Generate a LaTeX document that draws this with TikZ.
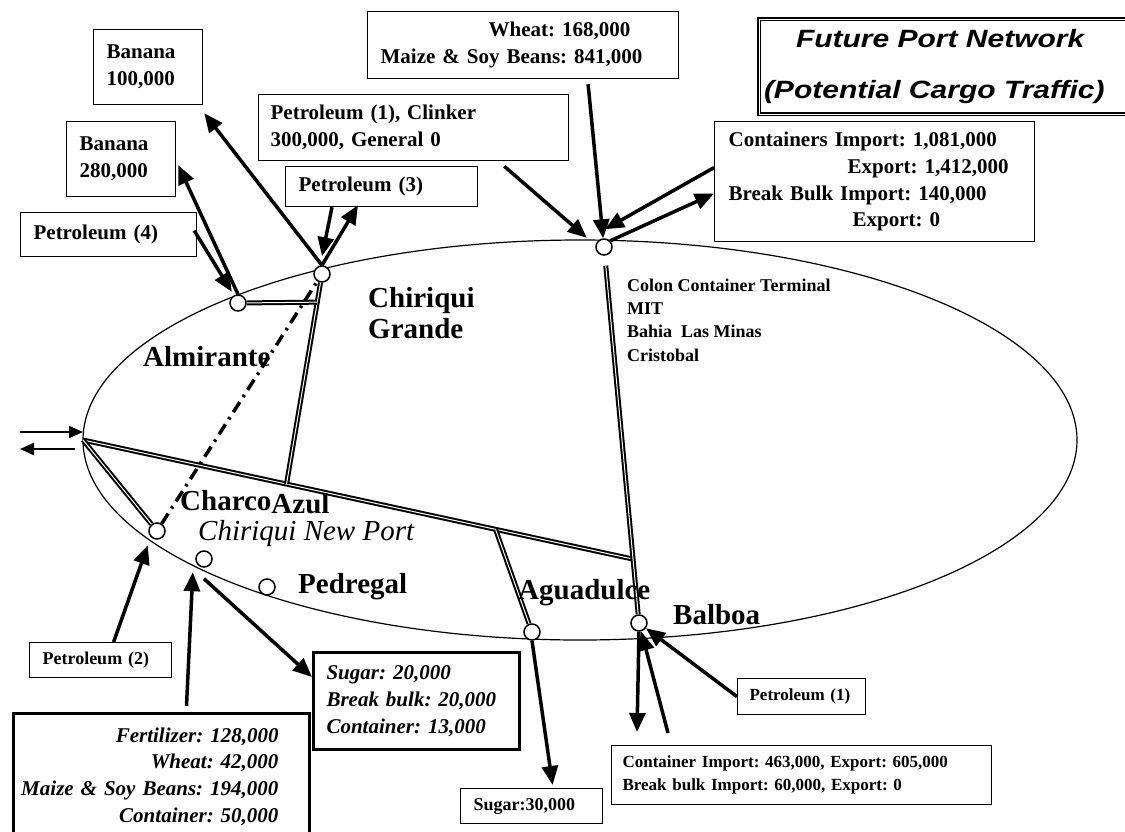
\documentclass[tikz,border=0pt]{standalone}
\usepackage{fontspec}
\setmainfont{Liberation Serif}
\newfontfamily\titlefont[FakeStretch=1.2]{Liberation Sans}
\usetikzlibrary{arrows.meta, calc}
\frenchspacing

\begin{document}
\begin{tikzpicture}[x=1pt, y=-1pt,
  port/.style={circle, draw, line width=1.5pt, fill=white, minimum size=16pt, inner sep=0pt},
  rail/.style={double, line width=2pt, double distance=1pt},
  arr/.style={line width=3.5pt, -{Triangle[length=19pt, width=16pt]}},
  thinarr/.style={line width=2pt, -{Triangle[length=14pt, width=12pt]}},
  cargo/.style={draw, line width=1.2pt, anchor=north west, align=left, inner xsep=13pt, inner ysep=0pt,
    font=\fontsize{21}{27}\selectfont\bfseries},
  place/.style={anchor=west, inner sep=0pt, font=\fontsize{29}{31}\selectfont\bfseries}]
\useasboundingbox (0,0) rectangle (1125,831);

\draw[line width=1.2pt] (580,440) ellipse [x radius=497, y radius=200];

\node[port] (cg) at (322,274) {};
\node[port] (al) at (238,303) {};
\node[port] (col) at (604,247) {};
\node[port] (ca) at (157,531) {};
\node[port] (cnp) at (204,559) {};
\node[port] (ped) at (267,587) {};
\node[port] (agu) at (532,632) {};
\node[port] (bal) at (639,623) {};

\coordinate (west) at (83,440);
\coordinate (jmain) at ($(col)!0.83!(bal)$);
\coordinate (jcg) at ($(west)!0.37!(jmain)$);
\coordinate (jagu) at ($(west)!0.75!(jmain)$);
\coordinate (jal) at ($(cg)!0.134!(jcg)$);
\coordinate (inA) at (20,432);
\coordinate (outA) at (20,449);

\draw[line width=3.5pt, dash pattern=on 12pt off 6pt on 2.5pt off 6pt] (ca) -- (cg);
\draw[rail] (west) -- (jmain);
\draw[rail] (west) -- (ca);
\draw[rail] (cg) -- (jcg);
\draw[rail] (al) -- (jal);
\draw[rail, shorten <=10pt] (col) -- (bal);
\draw[rail] (jagu) -- (agu);

\node[cargo, text width=83pt, minimum height=75pt] (ban100) at (93,29) {Banana\\100,000};
\node[cargo, text width=83pt, minimum height=75pt] (ban280) at (66,121) {Banana\\280,000};
\node[cargo, text width=150pt, minimum height=44pt] (pet4) at (20,212) {Petroleum (4)};
\node[cargo, text width=285pt, minimum height=67pt] (grain) at (367,11)
  {\hspace*{108pt}Wheat: 168,000\\Maize \& Soy Beans: 841,000};
\node[cargo, inner xsep=12pt, text width=286pt, minimum height=66pt] (clink) at (258,94)
  {Petroleum (1), Clinker\\300,000, General 0};
\node[cargo, text width=166pt, minimum height=40pt] (pet3) at (285,166) {Petroleum (3)};
\node[cargo, inner xsep=14pt, text width=292pt, minimum height=120pt,
  font=\fontsize{21}{26.7}\selectfont\bfseries] (cont) at (714,121)
  {Containers Import: 1,081,000\\\hspace*{119pt}Export: 1,412,000\\Break Bulk Import: 140,000\\\hspace*{124pt}Export: 0};
\node[draw, double, line width=2pt, double distance=0.8pt, anchor=north west, minimum height=95pt,
  text width=362pt, inner xsep=5pt, inner ysep=0pt, align=left,
  font=\titlefont\fontsize{25}{51}\selectfont\bfseries\itshape] (title) at (758,18)
  {\hspace*{32pt}Future Port Network\\(Potential Cargo Traffic)};

\node[cargo, font=\fontsize{18}{22}\selectfont\bfseries, text width=116pt, minimum height=35pt] (pet2) at (29,642) {Petroleum (2)};
\node[cargo, line width=3pt, inner xsep=0pt, text width=296pt, minimum height=126pt, align=right,
  font=\fontsize{21}{26.7}\selectfont\bfseries\itshape] (fert) at (12,712)
  {Fertilizer: 128,000\kern31pt\\Wheat: 42,000\kern31pt\\Maize \& Soy Beans: 194,000\kern31pt\\Container: 50,000\kern31pt};
\node[cargo, line width=3pt, text width=180pt, minimum height=97pt,
  font=\fontsize{21}{27}\selectfont\bfseries\itshape] (sug20) at (312,651)
  {Sugar: 20,000\\Break bulk: 20,000\\Container: 13,000};
\node[cargo, font=\fontsize{18}{22}\selectfont\bfseries, text width=116pt, minimum height=35pt] (sug30) at (460,788) {Sugar:30,000};
\node[cargo, font=\fontsize{17}{22}\selectfont\bfseries, inner xsep=12pt, text width=104pt, minimum height=36pt] (pet1) at (737,678) {Petroleum (1)};
\node[cargo, font=\fontsize{17}{23}\selectfont\bfseries, inner xsep=11pt, text width=358pt, minimum height=59pt] (contb) at (611,745)
  {Container Import: 463,000, Export: 605,000\\Break bulk Import: 60,000, Export: 0};

\node[place, align=left] (chg) at (368,313) {Chiriqui\\Grande};
\node[place] (alm) at (143,357) {Almirante};
\node[place] (chaz) at (180,502) {Charco\raisebox{-3pt}{Azul}};
\node[place, font=\fontsize{29}{31}\selectfont\itshape] (cnpl) at (198,534) {Chiriqui New Port};
\node[place] (pedl) at (298,587) {Pedregal};
\node[place] (agul) at (518,593) {Aguadulce};
\node[place] (ball) at (673,615) {Balboa};
\node[place, align=left, font=\fontsize{18}{23.3}\selectfont\bfseries] (coll) at (627,320)
  {Colon Container Terminal\\MIT\\Bahia\ \ Las Minas\\Cristobal};

\draw[thinarr] (inA) -- ([yshift=8pt]west);
\draw[thinarr] ([xshift=-8pt,yshift=-9pt]west) -- (outA);
\draw[arr] (cg.north) -- ([xshift=1pt,yshift=-8pt]ban100.south east);
\draw[arr] (al.north) -- ([xshift=2pt,yshift=-6pt]ban280.east);
\draw[arr] ([xshift=-3pt,yshift=4pt]pet4.east) -- ([yshift=5pt]al.north west);
\draw[arr] ([xshift=47pt]pet3.south west) -- ([yshift=9pt]cg.north);
\draw[arr] (cg.north) -- ([xshift=73pt,yshift=2pt]pet3.south west);
\draw[arr] ([xshift=-65pt,yshift=-5pt]clink.south east) -- ([xshift=-11pt,yshift=3pt]col.north west);
\draw[arr] ([xshift=65pt,yshift=-5pt]grain.south) -- ([xshift=-17pt,yshift=27pt]col);
\draw[arr] ([yshift=14pt]cont.west) -- ([xshift=1pt,yshift=9pt]col.north);
\draw[arr] (col.north east) -- ([yshift=-12pt]cont.west);
\draw[arr] ([xshift=13pt]pet2.north) -- ([xshift=-3pt,yshift=-8pt]ca.south west);
\draw[arr] ([xshift=25pt,yshift=6pt]fert.north) -- ([xshift=-5pt,yshift=-7pt]cnp.south west);
\draw[arr] ([yshift=-11pt]cnp.south) -- ([yshift=24pt]sug20.west);
\draw[arr] (agu.south) -- ([xshift=21pt,yshift=3pt]sug30.north);
\draw[arr] (bal.south) -- ([xshift=26pt,yshift=13pt]contb.north west);
\draw[arr] ([xshift=57pt,yshift=12pt]contb.north west) -- ([xshift=9pt,yshift=-20pt]bal);
\draw[arr] (pet1.west) -- ([xshift=16pt,yshift=-19pt]bal);
\end{tikzpicture}
\end{document}
